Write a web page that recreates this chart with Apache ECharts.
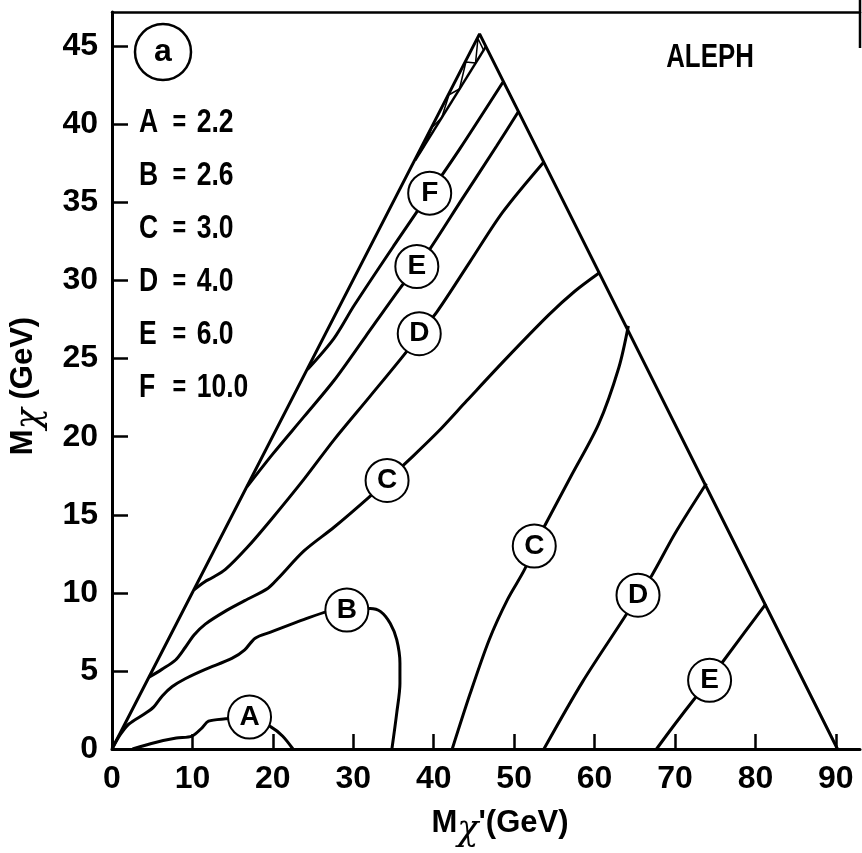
<!DOCTYPE html>
<html>
<head>
<meta charset="utf-8">
<script src="https://cdn.jsdelivr.net/npm/echarts@6/dist/echarts.min.js"></script>
<style>html,body{margin:0;padding:0;background:#fff;}#c{width:862px;height:853px;}</style>
</head>
<body>
<div id="c"></div>
<script>
// ---- data ----
const xTicks = [0, 10, 20, 30, 40, 50, 60, 70, 80, 90];
const yTicks = [0, 5, 10, 15, 20, 25, 30, 35, 40, 45];
const boundary = [[0, 0], [45.7, 45.8], [90.2, 0]];
const curveA = [[2.55, 0], [5.4, 0.42], [8.0, 0.7], [9.95, 0.83], [11.2, 1.36], [12.0, 1.78], [14.1, 1.93], [17.1, 2.05], [19.8, 1.4], [21.2, 0.83], [22.5, 0]];
const curveB = [[0, 0], [1.0, 0.9], [2.1, 1.6], [4.2, 2.3], [5.2, 2.7], [6.25, 3.4], [7.5, 4.0], [9.1, 4.5], [11.6, 5.1], [14.9, 5.8], [16.5, 6.35], [17.8, 7.1], [19.8, 7.5], [23.9, 8.3], [26.8, 8.8], [29.2, 8.9], [32.1, 9.0], [33.4, 8.8], [34.6, 8.04], [35.4, 7.0], [35.8, 5.5], [35.8, 4.2], [35.4, 2.3], [34.8, 0]];
const curveCleft = [[4.6, 4.6], [6.2, 5.1], [7.9, 5.7], [9.1, 6.5], [10.2, 7.3], [11.6, 8.0], [14.0, 8.8], [16.5, 9.5], [19.4, 10.3], [20.6, 10.9], [23.9, 12.7], [27.6, 14.2], [31.9, 16.1], [34.2, 17.2], [36.9, 18.5], [40.5, 20.3], [44.1, 22.3], [49.0, 25.0], [54.3, 27.8], [57.5, 29.3], [60.6, 30.5]];
const curveCright = [[42.3, 0], [44.5, 3.5], [46.9, 7.0], [49.2, 9.6], [51.3, 11.5], [52.5, 13.0], [53.7, 14.2], [57.0, 17.4], [60.5, 20.8], [63.0, 24.4], [64.2, 27.1]];
const curveDleft = [[10.2, 10.2], [11.5, 10.7], [12.4, 10.95], [14.1, 11.5], [16.8, 12.9], [19.8, 14.7], [23.9, 17.3], [27.6, 19.8], [32.1, 22.6], [36.7, 25.5], [38.2, 26.6], [40.4, 28.0], [44.5, 31.2], [48.6, 34.4], [53.7, 37.6]];
const curveDright = [[53.7, 0], [58.5, 4.3], [63.8, 8.5], [65.4, 9.85], [67.1, 11.1], [70.0, 13.8], [73.9, 17.0]];
const curveE = [[16.8, 16.8], [20.0, 18.9], [23.9, 21.3], [27.6, 23.6], [31.5, 26.4], [35.8, 29.5], [37.9, 30.9], [39.5, 32.0], [43.5, 35.2], [47.8, 38.6], [50.5, 40.8]];
const curveEright = [[67.7, 0], [70.0, 1.6], [72.4, 3.2], [74.3, 4.4], [76.1, 5.7], [81.3, 9.3]];
const curveF = [[24.3, 24.3], [27.6, 26.3], [30.1, 28.4], [35.0, 32.2], [39.5, 35.6], [43.2, 38.4], [48.6, 42.7]];
const hatchEdge = [[37.7, 37.7], [46.5, 45.0]];
const hatchMarks = [[38.2, 38.1], [39.0, 38.78], [39.8, 39.8], [41.0, 40.44], [41.9, 41.9], [43.2, 42.27], [44.0, 44.0], [45.2, 43.93], [45.5, 45.5], [46.2, 44.76]];
const markNames = ['A', 'B', 'C', 'C', 'D', 'D', 'E', 'E', 'F'];
const markX = [17.1, 29.2, 34.2, 52.5, 38.2, 65.4, 37.9, 74.3, 39.5];
const markY = [2.05, 8.9, 17.2, 13.0, 26.6, 9.85, 30.9, 4.4, 35.6];
const legendLetters = ['A', 'B', 'C', 'D', 'E', 'F'];
const legendValues = ['2.2', '2.6', '3.0', '4.0', '6.0', '10.0'];

// ---- chart ----
const FONT = '"Liberation Sans", Arial, sans-serif';
const WEIGHT = 'bold';
const chart = echarts.init(document.getElementById('c'), null, { renderer: 'canvas' });

function lineSeries(data, smooth, width) {
  return {
    type: 'line', data: data, showSymbol: false, symbol: 'none', smooth: smooth,
    lineStyle: { color: '#000', width: width || 3 }, z: 2, silent: true, animation: false
  };
}

const markData = markNames.map((n, i) => ({ name: n, value: [markX[i], markY[i]] }));

const legendGraphics = legendLetters.map((l, i) => ({
  type: 'text', x: 139, y: 123 + i * 53, scaleX: 0.78, originX: 0, originY: 0,
  style: {
    text: '{l|' + l + '}{e|=}{v|' + legendValues[i] + '}',
    verticalAlign: 'middle',
    rich: {
      l: { width: 43, fontSize: 34, fontWeight: WEIGHT, fontFamily: FONT, fill: '#000' },
      e: { width: 31, fontSize: 30, fontWeight: WEIGHT, fontFamily: FONT, fill: '#000' },
      v: { fontSize: 34, fontWeight: WEIGHT, fontFamily: FONT, fill: '#000' }
    }
  }
}));

const axisFont = { fontSize: 32, fontWeight: WEIGHT, fontFamily: FONT, color: '#000' };

chart.setOption({
  animation: false,
  backgroundColor: '#fff',
  grid: { left: 106, right: 2, top: 12, bottom: 100, containLabel: false },
  xAxis: [{
    type: 'value', min: 0, max: 93, position: 'bottom',
    splitLine: { show: false },
    axisLine: { show: true, lineStyle: { color: '#000', width: 3 } },
    axisTick: { show: true, inside: true, length: 15, customValues: xTicks, lineStyle: { color: '#000', width: 2.5 } },
    axisLabel: Object.assign({ margin: 14, customValues: xTicks }, axisFont),
    name: '{m|M}{c|χ}{t|\'(GeV)}', nameLocation: 'middle', nameGap: 50,
    nameTextStyle: {
      padding: [0, 0, 0, 28],
      rich: {
        m: { fontSize: 31, fontWeight: WEIGHT, fontFamily: FONT, color: '#000' },
        c: { fontSize: 35, fontStyle: 'italic', fontFamily: '"DejaVu Serif", serif', color: '#000', padding: [14, 0, 0, 0] },
        t: { fontSize: 31, fontWeight: WEIGHT, fontFamily: FONT, color: '#000' }
      }
    }
  }, {
    type: 'value', min: 0, max: 93, position: 'top',
    splitLine: { show: false }, axisTick: { show: false }, axisLabel: { show: false },
    axisLine: { show: true, lineStyle: { color: '#000', width: 2.5 } }
  }],
  yAxis: {
    type: 'value', min: 0, max: 47.2,
    splitLine: { show: false },
    axisLine: { show: true, lineStyle: { color: '#000', width: 3 } },
    axisTick: { show: true, inside: true, length: 16, customValues: yTicks, lineStyle: { color: '#000', width: 2.5 } },
    axisLabel: Object.assign({ margin: 14, customValues: yTicks }, axisFont),
    name: '{m|M}{c|χ}{t| (GeV)}', nameLocation: 'middle', nameGap: 64, nameRotate: 90,
    nameTextStyle: {
      padding: [0, 11, 0, 0],
      rich: {
        m: { fontSize: 31, fontWeight: WEIGHT, fontFamily: FONT, color: '#000' },
        c: { fontSize: 35, fontStyle: 'italic', fontFamily: '"DejaVu Serif", serif', color: '#000', padding: [14, 0, 0, 0] },
        t: { fontSize: 31, fontWeight: WEIGHT, fontFamily: FONT, color: '#000' }
      }
    }
  },
  series: [
    lineSeries(boundary, false, 3),
    lineSeries(curveA, 0.3),
    lineSeries(curveB, 0.3),
    lineSeries(curveCleft, 0.3),
    lineSeries(curveCright, 0.3),
    lineSeries(curveDleft, 0.3),
    lineSeries(curveDright, 0.3),
    lineSeries(curveE, 0.3),
    lineSeries(curveEright, 0.3),
    lineSeries(curveF, 0.3),
    lineSeries(hatchEdge, false, 2.5),
    lineSeries(hatchMarks, false, 1.5),
    {
      type: 'scatter', data: markData, symbol: 'circle', symbolSize: 43, z: 5, silent: true,
      itemStyle: { color: '#fff', borderColor: '#000', borderWidth: 2, opacity: 1 },
      label: { show: true, position: 'inside', formatter: '{b}', fontSize: 28, fontWeight: WEIGHT, fontFamily: FONT, color: '#000' }
    }
  ],
  graphic: [
    { type: 'circle', shape: { cx: 163, cy: 52, r: 28 }, style: { fill: '#fff', stroke: '#000', lineWidth: 2.5 } },
    { type: 'text', x: 163, y: 52, style: { text: 'a', fontSize: 32, fontWeight: WEIGHT, fontFamily: FONT, fill: '#000', align: 'center', verticalAlign: 'middle' } },
    { type: 'text', x: 710, y: 58, scaleX: 0.76, style: { text: 'ALEPH', fontSize: 34, fontWeight: WEIGHT, fontFamily: FONT, fill: '#000', align: 'center', verticalAlign: 'middle' } },
    { type: 'line', shape: { x1: 860, y1: 0, x2: 860, y2: 48 }, style: { stroke: '#000', lineWidth: 2.5 } }
  ].concat(legendGraphics)
});
</script>
</body>
</html>
